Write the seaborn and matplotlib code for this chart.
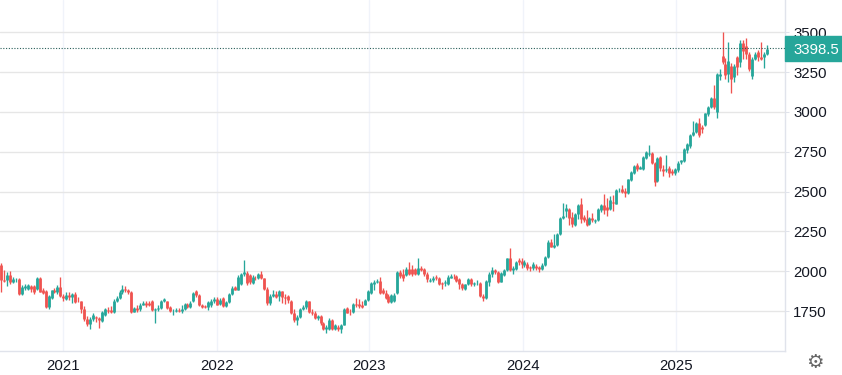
import matplotlib
matplotlib.use("Agg")
import matplotlib.pyplot as plt
import pandas as pd
import seaborn as sns

# weekly gold candles
first_week = "2020-08-09"
last_price = 3398.5
price_ticks = [1750, 2000, 2250, 2500, 2750, 3000, 3250, 3500]
year_ticks = ["2021-01-02", "2022-01-01", "2022-12-28", "2023-12-27", "2024-12-24"]
year_labels = ["2021", "2022", "2023", "2024", "2025"]

opens = [
    2037, 1945, 1942, 1975, 1932, 1948, 1948, 1858, 1892, 1888,
    1908, 1905, 1886, 1955, 1885, 1876, 1778, 1832, 1880, 1868,
    1902, 1845, 1825, 1850, 1838, 1860, 1812, 1810, 1762, 1702,
    1668, 1700, 1715, 1705, 1685, 1725, 1755, 1755, 1745, 1815,
    1830, 1870, 1890, 1880, 1872, 1745, 1770, 1760, 1790, 1800,
    1800, 1815, 1755, 1762, 1770, 1812, 1810, 1775, 1750, 1750,
    1758, 1752, 1762, 1795, 1775, 1810, 1875, 1850, 1790, 1780,
    1775, 1790, 1810, 1828, 1795, 1832, 1782, 1805, 1855, 1903,
    1885, 1920, 1985, 1990, 1975, 1925, 1960, 1960, 1980, 1955,
    1890, 1800, 1845, 1860, 1847, 1875, 1838, 1842, 1815, 1738,
    1695, 1712, 1760, 1775, 1810, 1745, 1738, 1705, 1718, 1672,
    1635, 1640, 1692, 1635, 1650, 1635, 1665, 1768, 1745, 1745,
    1795, 1795, 1785, 1790, 1820, 1862, 1918, 1930, 1940, 1880,
    1864, 1843, 1806, 1812, 1866, 1994, 1982, 1976, 2015, 2015,
    2012, 1985, 2022, 2015, 1985, 1940, 1942, 1965, 1960, 1925,
    1925, 1920, 1960, 1965, 1968, 1950, 1918, 1890, 1918, 1950,
    1920, 1925, 1929, 1845, 1830, 1930, 1983, 2010, 1997, 1933,
    1976, 2005, 2080, 2005, 2015, 2072, 2062, 2040, 2045, 2025,
    2018, 2035, 2025, 2015, 2036, 2090, 2185, 2155, 2165, 2233,
    2333, 2379, 2390, 2342, 2292, 2358, 2421, 2342, 2327, 2296,
    2333, 2317, 2321, 2385, 2415, 2406, 2390, 2437, 2425, 2508,
    2515, 2504, 2490, 2573, 2619, 2665, 2644, 2640, 2712, 2733,
    2744, 2681, 2567, 2719, 2644, 2633, 2650, 2629, 2615, 2635,
    2685, 2692, 2758, 2785, 2858, 2873, 2931, 2905, 2918, 2986,
    3032, 3090, 2997, 3225, 3350, 3302, 3240, 3291, 3219, 3343,
    3312, 3430, 3412, 3364, 3225, 3333, 3374, 3348, 3348, 3364,
]
closes = [
    1945, 1940, 1975, 1935, 1950, 1952, 1860, 1900, 1908, 1912,
    1890, 1868, 1957, 1872, 1864, 1778, 1843, 1880, 1868, 1900,
    1845, 1832, 1848, 1838, 1860, 1805, 1810, 1760, 1700, 1668,
    1700, 1722, 1705, 1695, 1745, 1760, 1750, 1745, 1815, 1830,
    1870, 1890, 1882, 1872, 1745, 1770, 1755, 1790, 1800, 1790,
    1790, 1755, 1762, 1770, 1812, 1825, 1770, 1750, 1752, 1758,
    1752, 1762, 1795, 1778, 1800, 1865, 1850, 1785, 1778, 1778,
    1805, 1815, 1825, 1790, 1822, 1782, 1808, 1860, 1897, 1885,
    1965, 1980, 1992, 1925, 1935, 1965, 1955, 1985, 1955, 1890,
    1800, 1845, 1860, 1840, 1875, 1838, 1830, 1818, 1738, 1695,
    1715, 1760, 1775, 1810, 1745, 1738, 1708, 1718, 1672, 1638,
    1650, 1692, 1635, 1660, 1635, 1665, 1762, 1740, 1742, 1795,
    1790, 1780, 1778, 1821, 1875, 1925, 1933, 1940, 1865, 1865,
    1832, 1806, 1849, 1853, 1994, 1972, 1960, 2015, 1983, 1985,
    1985, 2020, 2010, 1982, 1950, 1945, 1960, 1960, 1920, 1920,
    1935, 1962, 1970, 1962, 1938, 1920, 1892, 1918, 1950, 1920,
    1925, 1928, 1843, 1830, 1940, 1983, 2010, 1993, 1933, 1990,
    2010, 2080, 2005, 2020, 2058, 2060, 2045, 2055, 2020, 2018,
    2045, 2018, 2015, 2040, 2090, 2185, 2155, 2165, 2233, 2333,
    2344, 2396, 2333, 2296, 2362, 2415, 2327, 2323, 2292, 2333,
    2321, 2321, 2390, 2415, 2385, 2385, 2446, 2427, 2508, 2512,
    2498, 2490, 2577, 2623, 2660, 2644, 2654, 2719, 2748, 2745,
    2681, 2560, 2712, 2650, 2629, 2644, 2615, 2615, 2640, 2681,
    2698, 2769, 2796, 2858, 2873, 2931, 2856, 2890, 2991, 3032,
    3090, 3032, 3240, 3240, 3316, 3235, 3323, 3204, 3291, 3281,
    3433, 3380, 3364, 3267, 3333, 3364, 3348, 3333, 3364, 3398,
]
highs = [
    2054, 2010, 1995, 2000, 1965, 1958, 1955, 1915, 1918, 1920,
    1915, 1912, 1965, 1965, 1895, 1880, 1850, 1885, 1895, 1912,
    1962, 1860, 1870, 1870, 1865, 1870, 1840, 1815, 1780, 1720,
    1712, 1735, 1720, 1710, 1750, 1770, 1775, 1780, 1825, 1845,
    1880, 1915, 1905, 1890, 1875, 1775, 1790, 1800, 1812, 1815,
    1810, 1820, 1768, 1790, 1822, 1832, 1815, 1780, 1765, 1770,
    1768, 1790, 1800, 1802, 1810, 1868, 1880, 1855, 1795, 1790,
    1810, 1825, 1835, 1835, 1830, 1838, 1815, 1865, 1905, 1910,
    1975, 1990, 2070, 2000, 1985, 1975, 1970, 1990, 2000, 1960,
    1900, 1855, 1880, 1875, 1885, 1878, 1860, 1850, 1820, 1760,
    1722, 1768, 1785, 1820, 1815, 1765, 1750, 1725, 1725, 1680,
    1665, 1705, 1698, 1670, 1660, 1670, 1768, 1775, 1765, 1800,
    1830, 1825, 1810, 1825, 1880, 1930, 1945, 1950, 1965, 1895,
    1880, 1860, 1860, 1865, 2000, 2010, 2015, 2025, 2055, 2040,
    2020, 2080, 2030, 2020, 1995, 1960, 1970, 1975, 1965, 1930,
    1945, 1975, 1985, 1980, 1975, 1960, 1925, 1922, 1960, 1960,
    1930, 1945, 1935, 1860, 1945, 1995, 2025, 2015, 2000, 1995,
    2015, 2085, 2145, 2030, 2065, 2085, 2080, 2070, 2055, 2035,
    2055, 2045, 2030, 2050, 2095, 2195, 2200, 2235, 2240, 2340,
    2430, 2420, 2395, 2370, 2365, 2425, 2460, 2350, 2385, 2340,
    2365, 2330, 2395, 2420, 2485, 2460, 2470, 2480, 2515, 2520,
    2540, 2520, 2580, 2630, 2670, 2680, 2660, 2725, 2755, 2790,
    2750, 2685, 2720, 2725, 2665, 2727, 2660, 2640, 2650, 2690,
    2700, 2775, 2805, 2862, 2942, 2935, 2960, 2915, 2995, 3040,
    3095, 3171, 3245, 3270, 3499, 3340, 3437, 3310, 3300, 3350,
    3450, 3450, 3464, 3375, 3345, 3375, 3390, 3437, 3375, 3420,
]
lows = [
    1870, 1935, 1905, 1920, 1925, 1935, 1850, 1850, 1880, 1885,
    1868, 1858, 1880, 1868, 1855, 1772, 1760, 1825, 1862, 1860,
    1840, 1815, 1820, 1820, 1800, 1800, 1805, 1740, 1690, 1655,
    1640, 1690, 1680, 1645, 1680, 1720, 1740, 1735, 1740, 1805,
    1825, 1860, 1870, 1860, 1740, 1745, 1745, 1750, 1785, 1775,
    1780, 1750, 1675, 1750, 1762, 1805, 1765, 1745, 1725, 1745,
    1745, 1740, 1755, 1770, 1770, 1805, 1835, 1780, 1770, 1772,
    1755, 1775, 1800, 1785, 1790, 1778, 1775, 1800, 1850, 1880,
    1880, 1915, 1970, 1915, 1920, 1920, 1945, 1950, 1950, 1880,
    1790, 1790, 1835, 1830, 1810, 1800, 1795, 1800, 1730, 1680,
    1665, 1705, 1755, 1765, 1740, 1725, 1700, 1695, 1665, 1630,
    1610, 1632, 1630, 1628, 1625, 1610, 1660, 1735, 1725, 1740,
    1775, 1768, 1770, 1785, 1815, 1855, 1880, 1925, 1860, 1855,
    1825, 1800, 1800, 1808, 1860, 1955, 1940, 1970, 1975, 1970,
    1975, 1975, 2000, 1970, 1930, 1935, 1935, 1945, 1915, 1890,
    1905, 1915, 1955, 1950, 1930, 1890, 1885, 1885, 1915, 1910,
    1905, 1915, 1840, 1810, 1825, 1910, 1965, 1985, 1925, 1930,
    1970, 2000, 2000, 1985, 2010, 2040, 2020, 2025, 2005, 2000,
    2005, 2005, 1995, 2005, 2030, 2085, 2150, 2145, 2160, 2228,
    2325, 2340, 2290, 2280, 2285, 2330, 2300, 2310, 2285, 2290,
    2310, 2300, 2316, 2370, 2360, 2345, 2385, 2375, 2420, 2495,
    2490, 2465, 2485, 2565, 2610, 2630, 2640, 2635, 2705, 2725,
    2675, 2535, 2560, 2630, 2600, 2625, 2590, 2605, 2605, 2625,
    2675, 2685, 2745, 2775, 2850, 2865, 2845, 2870, 2910, 2975,
    3025, 3020, 2964, 3200, 3300, 3210, 3190, 3121, 3190, 3230,
    3280, 3330, 3330, 3260, 3210, 3325, 3320, 3325, 3275, 3355,
]

UP = "#26a69a"
DOWN = "#ef5350"
TEXT = "#131722"
AXIS_LINE = "#e0e3eb"

df = pd.DataFrame({"open": opens, "close": closes, "high": highs, "low": lows})
df["week"] = pd.date_range(first_week, periods=len(df), freq="7D")
df["direction"] = ["up" if c >= o else "down" for o, c in zip(opens, closes)]

wicks = df.melt(id_vars=["week", "direction"], value_vars=["high", "low"], value_name="price")
bodies = df.melt(id_vars=["week", "direction"], value_vars=["open", "close"], value_name="price")

sns.set_theme(style="white")
plt.rcParams["font.family"] = ["Liberation Sans", "DejaVu Sans"]

fig = plt.figure(figsize=(8.42, 3.75), dpi=100)
ax = fig.add_axes([0, 24 / 375, 785 / 842, 351 / 375])

palette = {"up": UP, "down": DOWN}
sns.lineplot(data=wicks, x="week", y="price", hue="direction", units="week", estimator=None,
             palette=palette, legend=False, lw=0.95, solid_capstyle="butt", ax=ax, zorder=3)
sns.lineplot(data=bodies, x="week", y="price", hue="direction", units="week", estimator=None,
             palette=palette, legend=False, lw=2.0, solid_capstyle="butt", ax=ax, zorder=4)

# about 2.956 px per week
ax.set_xlim(pd.Timestamp("2020-08-06"), pd.Timestamp("2025-09-08"))
ax.set_ylim(1499, 3703)
ax.set_xlabel("")
ax.set_ylabel("")

ax.set_xticks(pd.to_datetime(year_ticks), year_labels)
ax.yaxis.tick_right()
ax.set_yticks(price_ticks)
ax.tick_params(axis="y", length=3, width=0.75, color=AXIS_LINE, pad=3, labelsize=10.8, labelcolor=TEXT)
ax.tick_params(axis="x", length=0, pad=6, labelsize=10.8, labelcolor=TEXT)

ax.grid(axis="y", color="#e6e6e6", lw=1)
ax.grid(axis="x", color="#f0f3fa", lw=1)
ax.set_axisbelow(True)
for side in ["top", "left"]:
    ax.spines[side].set_visible(False)
for side in ["right", "bottom"]:
    ax.spines[side].set_color(AXIS_LINE)
    ax.spines[side].set_linewidth(1)

# last price line and its tag on the axis
ax.axhline(last_price, color="#2a5f5a", lw=0.8, ls=(0, (1, 1.5)), zorder=5)
tag = plt.Rectangle((1, last_price - 78), 57 / 785, 156, transform=ax.get_yaxis_transform(),
                    color=UP, clip_on=False, zorder=6)
ax.add_patch(tag)
ax.text(1 + 31 / 785, last_price, f"{last_price}", transform=ax.get_yaxis_transform(), color="white",
        fontsize=10.8, ha="center", va="center_baseline", zorder=7)

# settings gear in the corner
fig.text(815 / 842, 12 / 375, "\u2699", family="DejaVu Sans", fontsize=14, color="#666666", ha="center", va="center")

fig.savefig("out.png", dpi=100)
